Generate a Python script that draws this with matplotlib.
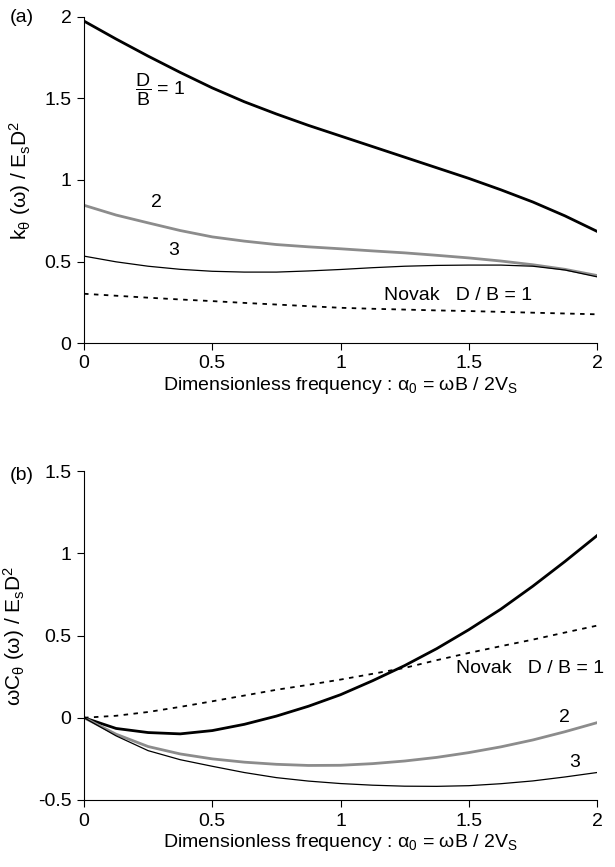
import numpy as np
import matplotlib.pyplot as plt

plt.rcParams['font.family'] = ['Liberation Sans', 'DejaVu Sans']
plt.rcParams['mathtext.fontset'] = 'custom'
plt.rcParams['mathtext.rm'] = 'Liberation Sans'
plt.rcParams['mathtext.it'] = 'Liberation Sans:italic'

# frequency a0 = wB / 2Vs
a0 = [0.0, 0.125, 0.25, 0.375, 0.5, 0.625, 0.75, 0.875, 1.0,
      1.125, 1.25, 1.375, 1.5, 1.625, 1.75, 1.875, 2.0]

# (a) stiffness k_theta / Es D^2
k_db1 = [1.975, 1.865, 1.76, 1.66, 1.565, 1.48, 1.405, 1.335, 1.27,
         1.205, 1.14, 1.075, 1.01, 0.94, 0.865, 0.78, 0.685]
k_db2 = [0.845, 0.785, 0.737, 0.69, 0.651, 0.625, 0.604, 0.59, 0.578,
         0.565, 0.553, 0.538, 0.522, 0.503, 0.48, 0.452, 0.414]
k_db3 = [0.533, 0.498, 0.471, 0.452, 0.44, 0.435, 0.435, 0.442, 0.451,
         0.462, 0.471, 0.476, 0.478, 0.478, 0.471, 0.448, 0.406]
k_novak = [0.302, 0.29, 0.278, 0.267, 0.257, 0.246, 0.236, 0.226, 0.216,
           0.21, 0.205, 0.2, 0.196, 0.191, 0.186, 0.181, 0.176]

# (b) damping w C_theta / Es D^2
c_db1 = [0.0, -0.065, -0.09, -0.098, -0.078, -0.04, 0.01, 0.07, 0.14,
         0.225, 0.317, 0.42, 0.535, 0.66, 0.8, 0.95, 1.107]
c_db2 = [0.0, -0.1, -0.175, -0.22, -0.25, -0.27, -0.283, -0.29, -0.289,
         -0.279, -0.263, -0.241, -0.212, -0.177, -0.135, -0.085, -0.03]
c_db3 = [0.0, -0.11, -0.2, -0.255, -0.295, -0.333, -0.364, -0.385, -0.4,
         -0.41, -0.416, -0.417, -0.413, -0.401, -0.384, -0.36, -0.333]
c_novak = [0.0, 0.012, 0.035, 0.066, 0.1, 0.135, 0.17, 0.2, 0.232,
           0.267, 0.303, 0.35, 0.394, 0.435, 0.475, 0.518, 0.56]

W, H = 615, 867
FS = 14
fig = plt.figure(figsize=(W / 100, H / 100), dpi=100)

def make_axes(top, bottom):
    ax = fig.add_axes([84 / W, 1 - bottom / H, (597 - 84) / W, (bottom - top) / H])
    ax.spines['top'].set_visible(False)
    ax.spines['right'].set_visible(False)
    ax.tick_params(direction='out', length=5, width=0.8, labelsize=FS, pad=4)
    ax.set_xlim(0, 2)
    ax.set_xticks([0, 0.5, 1, 1.5, 2])
    ax.set_xticklabels(['0', '0.5', '1', '1.5', '2'])
    ax.set_xlabel('Dimensionless frequency : α$_0$ = ωB / 2V$_\\mathrm{S}$',
                  fontsize=FS, labelpad=2)
    return ax

ax1 = make_axes(17, 343)
ax1.plot(a0, k_db1, color='black', lw=2.0)
ax1.plot(a0, k_db2, color='#8c8c8c', lw=2.0)
ax1.plot(a0, k_db3, color='black', lw=0.9)
ax1.plot(a0, k_novak, color='black', lw=1.3, ls=(0, (2.5, 3)))
ax1.set_ylim(0, 2)
ax1.set_yticks([0, 0.5, 1, 1.5, 2])
ax1.set_yticklabels(['0', '0.5', '1', '1.5', '2'])
ax1.set_ylabel('k$_\\mathrm{θ}$ (ω) / E$_\\mathrm{s}$D$^2$', fontsize=FS + 1, labelpad=8)
ax1.text(0.2, 1.55, r'$\dfrac{\mathrm{D}}{\mathrm{B}}$ = 1', fontsize=FS, va='center')
ax1.text(0.26, 0.86, '2', fontsize=FS, va='center')
ax1.text(0.33, 0.565, '3', fontsize=FS, va='center')
ax1.text(1.17, 0.29, 'Novak   D / B = 1', fontsize=FS, va='center')

ax2 = make_axes(471, 800)
ax2.plot(a0, c_db1, color='black', lw=2.0)
ax2.plot(a0, c_db2, color='#8c8c8c', lw=2.0)
ax2.plot(a0, c_db3, color='black', lw=0.9)
ax2.plot(a0, c_novak, color='black', lw=1.3, ls=(0, (2.5, 3)))
ax2.set_ylim(-0.5, 1.5)
ax2.set_yticks([-0.5, 0, 0.5, 1, 1.5])
ax2.set_yticklabels(['-0.5', '0', '0.5', '1', '1.5'])
ax2.set_ylabel('ωC$_\\mathrm{θ}$ (ω) / E$_\\mathrm{s}$D$^2$', fontsize=FS + 1, labelpad=8)
ax2.text(1.45, 0.3, 'Novak   D / B = 1', fontsize=FS, va='center', clip_on=False)
ax2.text(1.85, 0.0, '2', fontsize=FS, va='center')
ax2.text(1.89, -0.275, '3', fontsize=FS, va='center')

fig.text(10 / W, 1 - 17 / H, '(a)', fontsize=FS, va='center')
fig.text(10 / W, 1 - 475 / H, '(b)', fontsize=FS, va='center')

fig.savefig('out.png', dpi=100)
